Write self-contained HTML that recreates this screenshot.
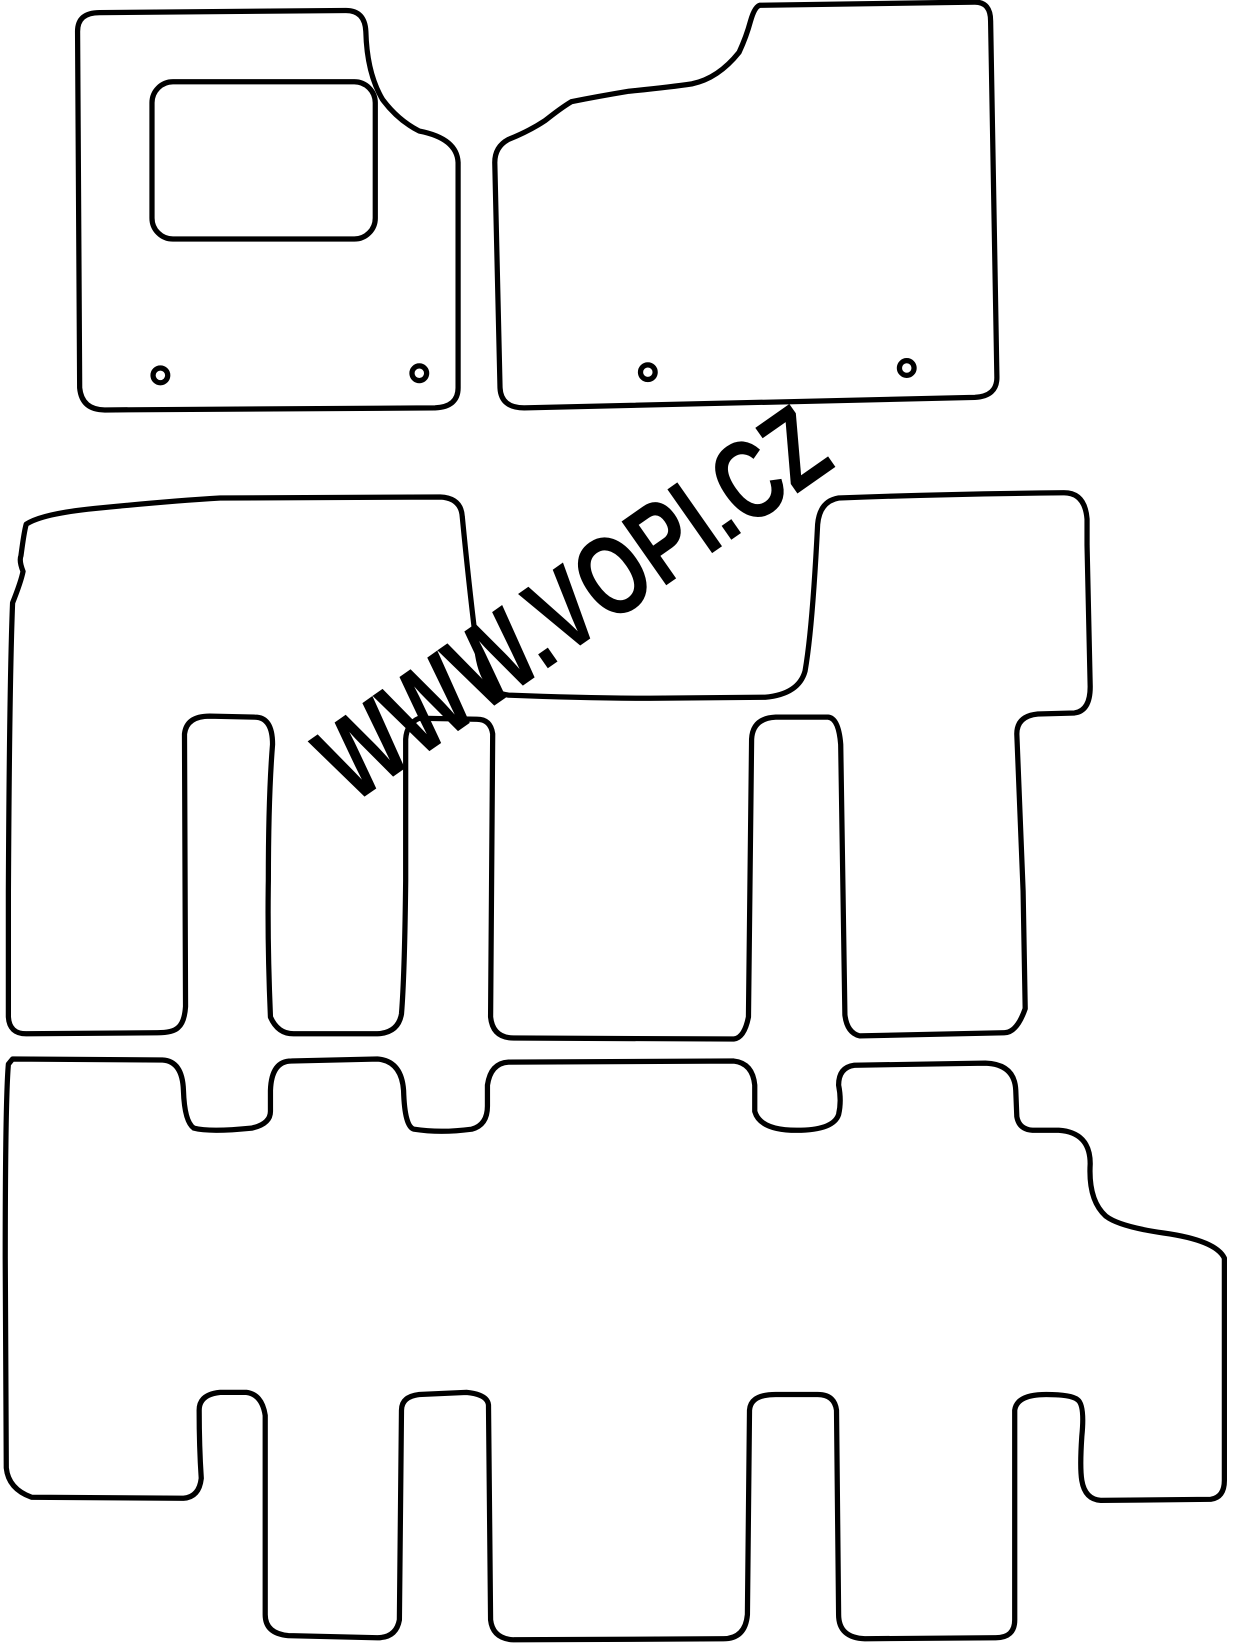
<!DOCTYPE html>
<html><head><meta charset="utf-8"><style>
html,body{margin:0;padding:0;background:#fff;width:1238px;height:1644px;overflow:hidden}
svg{display:block}
</style></head><body>
<svg width="1238" height="1644" viewBox="0 0 1181 1568" preserveAspectRatio="none" xmlns="http://www.w3.org/2000/svg">
<g fill="none" stroke="#000" stroke-width="5" stroke-linejoin="round">
<path d="M95,12 L330,10 Q348,10 349,30 Q350,70 365,95 Q380,115 400,125 Q436,132 437,155 L437,370 Q437,388 415,389 L100,391 Q78,391 76,370 L74,30 Q74,12 95,12 Z"/>
<rect x="145" y="78" width="213" height="150" rx="20"/>
<circle cx="153" cy="358" r="7"/><circle cx="400" cy="356" r="7"/>
<circle cx="618" cy="355" r="7"/><circle cx="865" cy="351" r="7"/>
<path d="M725,5 L930,2 Q945,2 945,20 L951,360 Q951,378 930,379 L500,389 Q478,389 477,370 L472,155 Q472,140 485,133 Q505,125 520,115 Q535,103 545,97 Q570,92 600,87 Q640,83 660,80 Q685,75 705,50 Q712,35 716,20 Q720,6 725,5 Z"/>
<path d="M25,500 Q40,490 90,485 Q160,478 210,475 L420,474 Q440,475 441,493 Q448,565 455,620 Q460,660 485,663 Q560,666 620,666 L730,665 Q762,662 768,640 Q775,600 780,500 Q782,478 800,475 Q900,471 1015,470 Q1035,470 1037,495 L1037,520 L1040,655 Q1040,678 1025,680 L990,681 Q970,683 970,700 L976,850 L978,962 Q970,985 958,985 L820,988 Q808,985 806,968 L802,710 Q800,685 790,684 L740,684 Q718,685 717,705 L714,970 Q710,990 700,991 L490,990 Q470,990 468,970 L470,700 Q468,686 455,686 L400,685 Q388,690 387,705 L387,840 Q386,930 383,967 Q380,985 360,986 L280,986 Q265,986 258,970 Q255,900 256,840 Q256,760 260,710 Q260,684 243,684 L200,683 Q178,683 176,700 L177,960 Q176,975 170,980 Q165,985 150,985 L25,986 Q9,986 8,970 L8,850 Q9,650 12,575 Q20,555 22,545 Q18,535 20,530 Q23,507 25,500 Z"/>
<path d="M12,1010 L155,1011 Q174,1012 175,1040 Q176,1070 185,1076 Q200,1080 240,1076 Q258,1072 258,1060 L258,1040 Q259,1012 278,1012 L360,1010 Q383,1012 385,1040 Q386,1075 395,1077 Q420,1081 450,1077 Q465,1073 465,1055 L465,1035 Q468,1014 485,1013 L700,1012 Q718,1014 720,1035 L720,1060 Q725,1078 760,1078 Q795,1078 800,1063 Q803,1050 800,1035 Q800,1018 815,1016 L940,1014 Q968,1015 969,1040 L970,1065 Q972,1077 985,1078 L1010,1078 Q1040,1080 1040,1110 Q1038,1145 1055,1160 Q1068,1170 1110,1176 Q1160,1183 1168,1200 L1168,1412 Q1168,1428 1155,1430 L1050,1431 Q1035,1430 1032,1412 Q1030,1400 1032,1370 Q1035,1340 1028,1335 Q1022,1330 998,1330 Q970,1330 968,1345 L968,1545 Q968,1562 950,1562 L825,1563 Q800,1562 800,1540 L798,1345 Q796,1330 780,1330 L740,1330 Q716,1330 715,1345 L713,1540 Q711,1563 690,1563 L490,1564 Q470,1563 468,1545 L466,1340 Q465,1330 445,1328 L400,1330 Q383,1332 383,1345 L381,1545 Q378,1562 360,1562 L275,1560 Q253,1558 253,1540 L253,1350 Q250,1330 235,1328 L210,1328 Q190,1330 190,1345 Q190,1380 192,1410 Q190,1428 175,1429 L30,1428 Q8,1420 6,1400 L5,1200 Q5,1050 8,1015 Z"/>
</g>
<text x="0" y="0" transform="translate(336,768) rotate(-35)" font-family="Liberation Sans, sans-serif" font-weight="bold" font-size="108" fill="#000" textLength="565" lengthAdjust="spacingAndGlyphs">WWW.VOPI.CZ</text>
</svg>
</body></html>
